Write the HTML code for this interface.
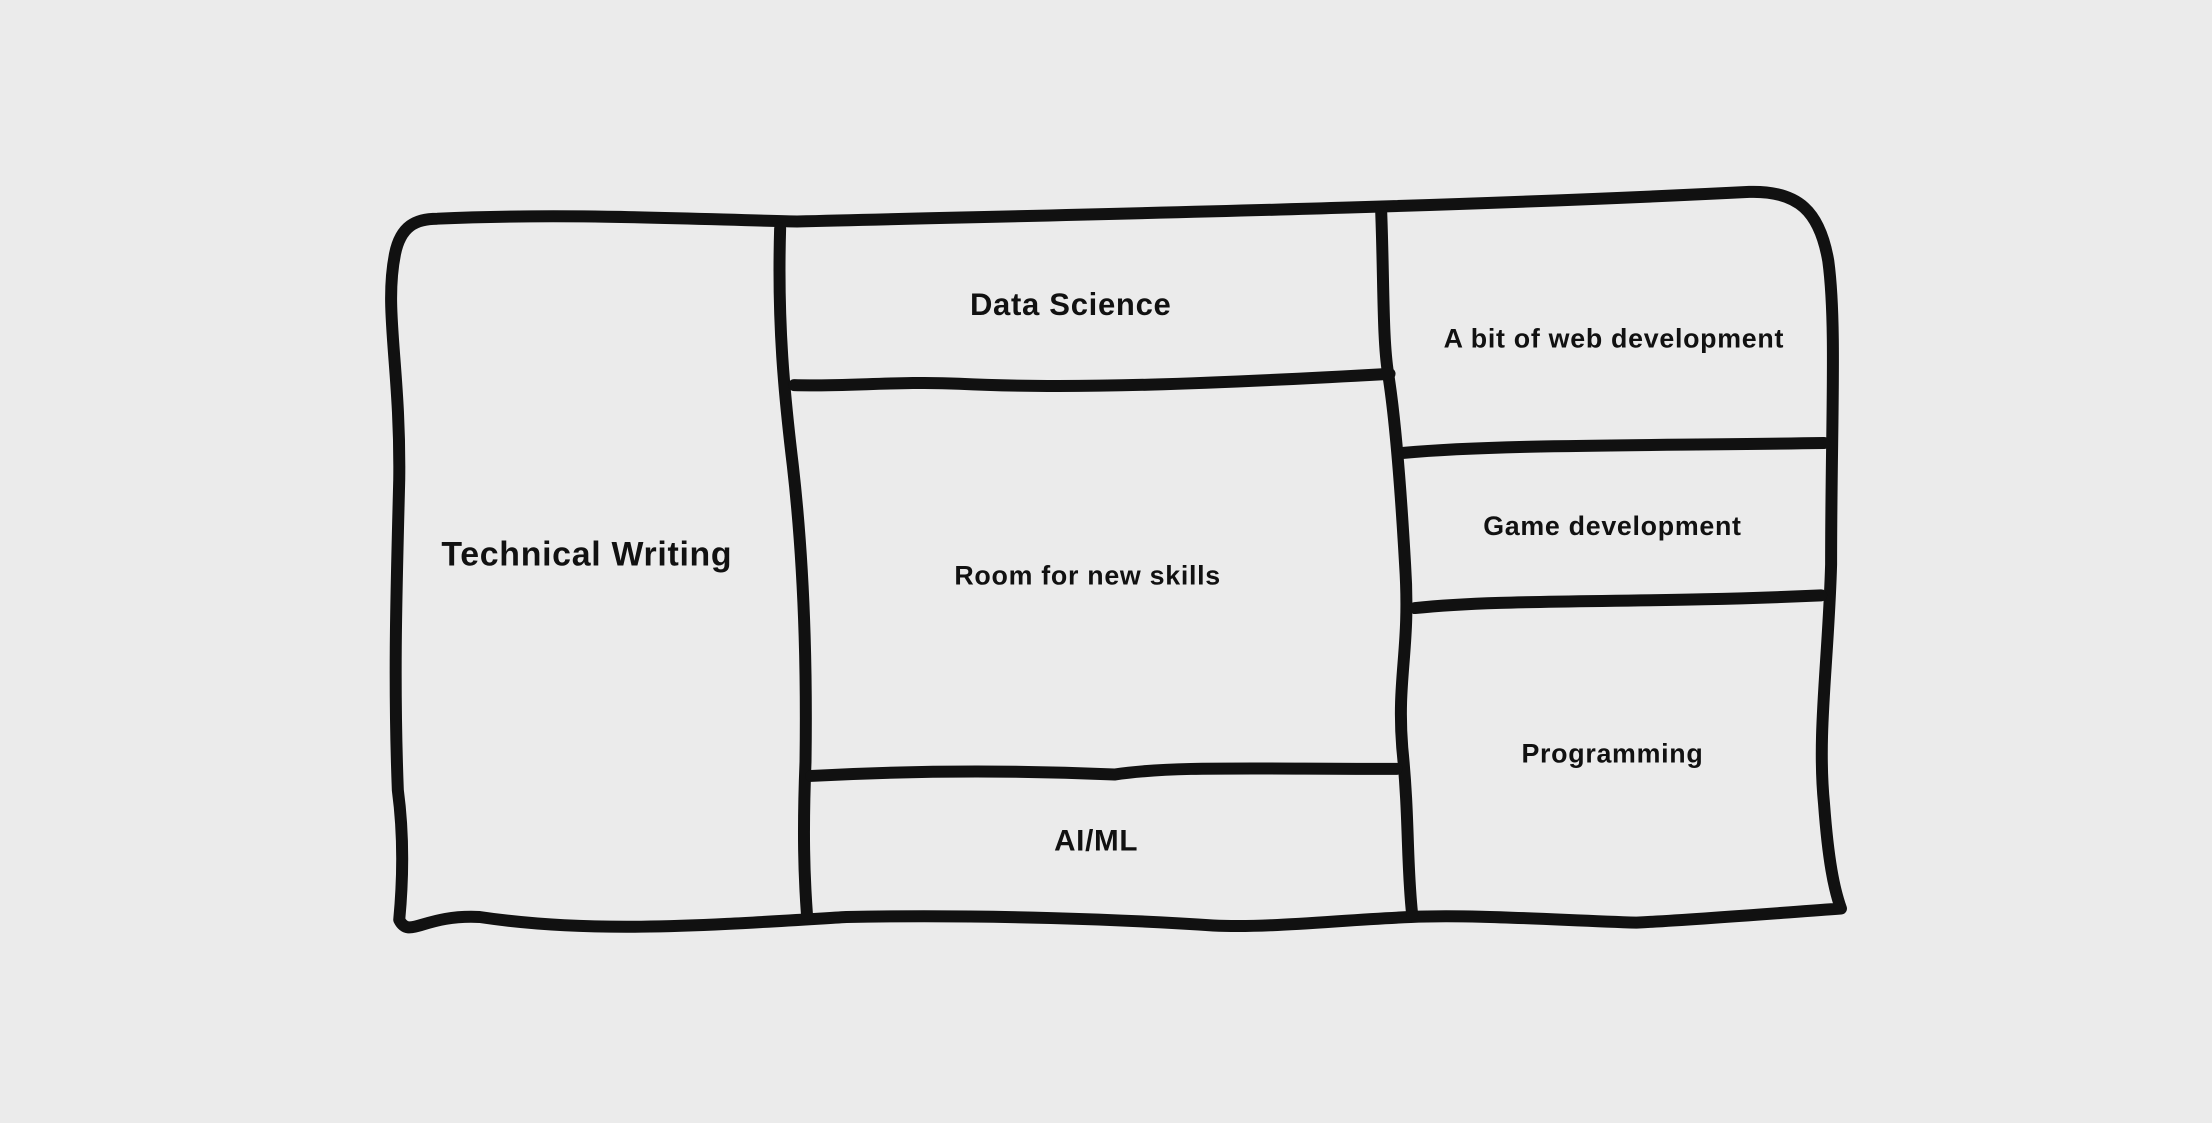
<!DOCTYPE html>
<html><head><meta charset="utf-8"><style>
html,body{margin:0;padding:0;background:#ebebeb;}
svg{display:block}
text{font-family:"Liberation Sans",sans-serif;font-weight:bold;fill:#111;text-anchor:middle;dominant-baseline:central;letter-spacing:0.5px}
</style></head><body>
<svg width="2212" height="1123" viewBox="0 0 1568 796" xmlns="http://www.w3.org/2000/svg">
<rect width="1568" height="796" fill="#ebebeb"/>
<g fill="none" stroke="#111" stroke-width="8.5" stroke-linecap="round" stroke-linejoin="round">
<path d="M310,155 C400,151 480,155 565,157 C760,152 1000,148 1240,136 C1275,135 1290,150 1296,185 C1302,230 1298,300 1298,400 C1296,470 1288,520 1293,570 C1296,610 1300,630 1305,644 C1250,648 1200,652 1160,654 C1100,652 1040,648 1000,650 C950,652 900,658 860,656 C800,652 700,648 600,650 C500,656 420,662 340,650 C300,648 290,666 283,652 C286,620 286,590 282,560 C279,480 281,420 283,340 C284,260 272,220 280,180 C284,160 295,155 310,155 Z"/>
<path d="M553,162 C551,230 556,280 562,330 C570,400 572,470 571,540 C569,590 570,620 572,648"/>
<path d="M979,148 C981,200 980,240 984,265 C988,290 992,330 996,400 C1000,460 990,480 994,530 C999,580 997,610 1001,648"/>
<path d="M563,273 C600,274 640,270 680,272 C760,276 860,272 985,265"/>
<path d="M575,550 C650,546 720,546 790,549 C830,543 880,545 990,545"/>
<path d="M995,321 C1060,315 1160,316 1293,314"/>
<path d="M1003,431 C1070,424 1160,428 1291,422"/>
</g>
<text x="416" y="393" font-size="24">Technical Writing</text>
<text x="759" y="216" font-size="22">Data Science</text>
<text x="771" y="408" font-size="19">Room for new skills</text>
<text x="777" y="596" font-size="21">AI/ML</text>
<text x="1144" y="240" font-size="19">A bit of web development</text>
<text x="1143" y="373" font-size="19">Game development</text>
<text x="1143" y="534" font-size="19">Programming</text>
</svg>
</body></html>
